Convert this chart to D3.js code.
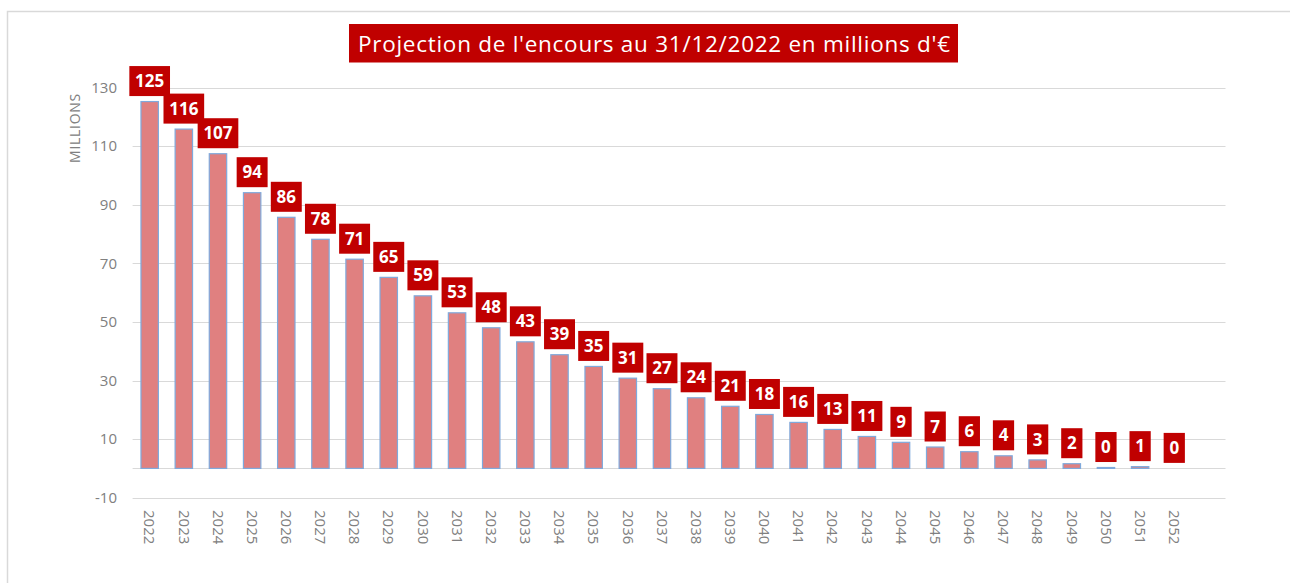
<!DOCTYPE html>
<html>
<head>
<meta charset="utf-8">
<script src="https://cdn.jsdelivr.net/npm/d3@7"></script>
<style>
  body { margin: 0; background: #fff; }
  text { font-family: "Open Sans", sans-serif; }
</style>
</head>
<body>
<script>
// chart values
const years = ["2022", "2023", "2024", "2025", "2026", "2027", "2028", "2029", "2030", "2031",
  "2032", "2033", "2034", "2035", "2036", "2037", "2038", "2039", "2040", "2041",
  "2042", "2043", "2044", "2045", "2046", "2047", "2048", "2049", "2050", "2051", "2052"];
const encours = [125.2, 115.8, 107.4, 94.1, 85.7, 78.2, 71.4, 65.2, 58.9, 53.1,
  48.0, 43.2, 38.8, 34.8, 30.8, 27.2, 24.1, 21.2, 18.4, 15.7,
  13.3, 10.9, 8.9, 7.3, 5.7, 4.3, 2.9, 1.6, 0.3, 0.6, 0];
const yTicks = [-10, 10, 30, 50, 70, 90, 110, 130];
const title = "Projection de l'encours au 31/12/2022 en millions d'€";

const W = 1290, H = 583;
const plotLeft = 132.6, plotRight = 1225.5, plotTop = 87.5, plotBottom = 497.7;
const step = (plotRight - plotLeft) / 32;   // one empty slot after 2052

const svg = d3.select("body").append("svg")
  .attr("width", W)
  .attr("height", H);

// outer frame
svg.append("rect")
  .attr("x", 7.5).attr("y", 11.5)
  .attr("width", 1300).attr("height", 600)
  .attr("fill", "none")
  .attr("stroke", "#d9d9d9")
  .attr("stroke-width", 1.5);

const x = d3.scaleBand()
  .domain(years)
  .range([plotLeft, plotLeft + years.length * step])
  .paddingInner(0.49)
  .paddingOuter(0.245);

const y = d3.scaleLinear()
  .domain([-10, 130])
  .range([plotBottom, plotTop]);

// gridlines + zero line
svg.append("g")
  .selectAll("line")
  .data(yTicks.concat([0]))
  .join("line")
  .attr("x1", plotLeft).attr("x2", plotRight)
  .attr("y1", d => Math.round(y(d)) + 0.5)
  .attr("y2", d => Math.round(y(d)) + 0.5)
  .attr("stroke", "#d9d9d9")
  .attr("stroke-width", 1.2);

// y tick labels
svg.append("g")
  .selectAll("text")
  .data(yTicks)
  .join("text")
  .attr("x", 117)
  .attr("y", d => y(d))
  .attr("dy", "0.35em")
  .attr("text-anchor", "end")
  .attr("font-size", 15)
  .attr("fill", "#808080")
  .text(d => d);

svg.append("text")
  .attr("transform", "translate(79.5,128) rotate(-90)")
  .attr("text-anchor", "middle")
  .attr("font-size", 14)
  .attr("letter-spacing", 0.7)
  .attr("fill", "#808080")
  .text("MILLIONS");

// x tick labels, rotated
svg.append("g")
  .selectAll("text")
  .data(years)
  .join("text")
  .attr("transform", d => `translate(${x(d) + x.bandwidth() / 2},510) rotate(90)`)
  .attr("dy", "0.35em")
  .attr("font-size", 15)
  .attr("fill", "#808080")
  .text(d => d);

// bars
svg.append("g")
  .selectAll("rect")
  .data(encours.map((v, i) => ({year: years[i], v})))
  .join("rect")
  .attr("x", d => x(d.year))
  .attr("width", x.bandwidth())
  .attr("y", d => y(d.v))
  .attr("height", d => y(0) - y(d.v))
  .attr("fill", "#e08080")
  .attr("stroke", d => d.v > 0 ? "#7fa9dc" : "none")
  .attr("stroke-width", 1.2);

// value labels in red boxes
const fmt = d3.format(".0f");
const lab = svg.append("g")
  .selectAll("g")
  .data(encours.map((v, i) => ({year: years[i], v})))
  .join("g")
  .attr("transform", d => `translate(${x(d.year) + x.bandwidth() / 2},${y(d.v) - 20.5})`);

lab.append("text")
  .attr("text-anchor", "middle")
  .attr("dy", "0.36em")
  .attr("font-size", 17)
  .attr("font-weight", "bold")
  .attr("fill", "#fff")
  .text(d => fmt(d.v))
  .each(function() {
    const w = this.getComputedTextLength() + 11.5;
    d3.select(this.parentNode).insert("rect", "text")
      .attr("x", -w / 2).attr("y", -15)
      .attr("width", w).attr("height", 30)
      .attr("fill", "#c00000");
  });

// title
const tg = svg.append("g");
tg.append("rect")
  .attr("x", 349).attr("y", 24)
  .attr("width", 609).attr("height", 38.5)
  .attr("fill", "#c00000");
tg.append("text")
  .attr("x", 358).attr("y", 44)
  .attr("dy", "0.35em")
  .attr("font-size", 22.5)
  .attr("fill", "#fff")
  .attr("textLength", 592)
  .attr("lengthAdjust", "spacing")
  .text(title);
</script>
</body>
</html>
